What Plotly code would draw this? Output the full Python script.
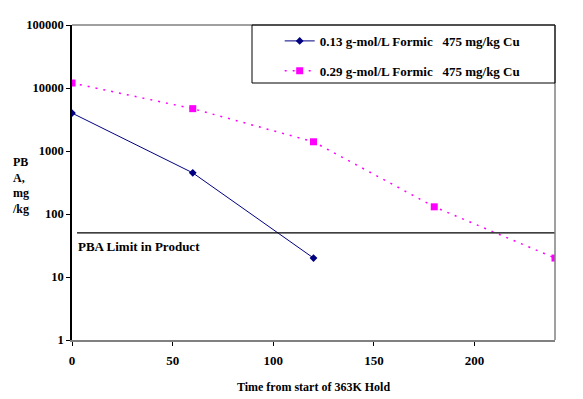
import plotly.graph_objects as go

time_s1 = [0, 60, 120]
pba_s1 = [4000, 450, 20]
time_s2 = [0, 60, 120, 180, 240]
pba_s2 = [12000, 4700, 1400, 130, 20]
limit_value = 50
limit_x = [2.5, 240]
name_s1 = "0.13 g-mol/L Formic\u00a0\u00a0\u00a0475 mg/kg Cu"
name_s2 = "0.29 g-mol/L Formic\u00a0\u00a0\u00a0475 mg/kg Cu"
x_ticks = [0, 50, 100, 150, 200]
y_ticks = [1, 10, 100, 1000, 10000, 100000]

font = "Liberation Serif, Times New Roman, serif"

fig = go.Figure()
fig.add_trace(go.Scatter(
    x=time_s1, y=pba_s1, mode="lines+markers", name=name_s1, legendgroup="a",
    line=dict(color="#000080", width=1),
    marker=dict(symbol="diamond", size=6, color="#000080"),
))
fig.add_trace(go.Scatter(
    x=time_s2, y=pba_s2, mode="lines+markers", name=name_s2, legendgroup="b",
    line=dict(color="#FF00FF", width=1.5, dash="2px,6px"),
    marker=dict(symbol="square", size=7, color="#FF00FF"),
))
fig.add_trace(go.Scatter(
    x=limit_x, y=[limit_value, limit_value], mode="lines", showlegend=False,
    line=dict(color="black", width=1.2), hoverinfo="skip",
))

fig.update_layout(
    width=583, height=399,
    margin=dict(l=72, r=28, t=25, b=59),
    paper_bgcolor="white", plot_bgcolor="white",
    font=dict(family=font, size=12, color="black"),
    showlegend=True,
    legend=dict(
        x=0.43, y=0.997, xanchor="left", yanchor="top",
        bgcolor="rgba(0,0,0,0)", borderwidth=0,
        font=dict(family=font, size=13, color="black", weight="bold"),
        tracegroupgap=10, traceorder="grouped",
    ),
    xaxis=dict(
        range=[0, 240], tickvals=x_ticks, showgrid=False, zeroline=False,
        showline=True, linecolor="#808080", linewidth=2,
        ticks="outside", ticklen=4, tickcolor="black",
        tickfont=dict(family=font, size=13, weight="bold"),
        ticklabelstandoff=3, automargin=False,
        title=dict(text="<b>Time from start of 363K Hold</b>", standoff=16,
                   font=dict(family=font, size=12)),
    ),
    yaxis=dict(
        type="log", range=[0, 5], tickvals=y_ticks, ticktext=[str(v) for v in y_ticks],
        showgrid=False, zeroline=False, automargin=False,
        showline=True, linecolor="black", linewidth=1.5,
        ticks="outside", ticklen=4, tickcolor="black",
        tickfont=dict(family=font, size=12.5, weight="bold"),
    ),
    shapes=[
        dict(type="line", xref="paper", yref="paper", x0=0, x1=1, y0=1, y1=1,
             line=dict(color="#808080", width=1.5)),
        dict(type="line", xref="paper", yref="paper", x0=1, x1=1, y0=0, y1=1,
             line=dict(color="#808080", width=1.5)),
        dict(type="rect", xref="paper", yref="paper",
             x0=(252 - 72) / 483, x1=1, y0=1 - (83 - 25) / 315, y1=1,
             line=dict(color="black", width=1)),
    ],
    annotations=[
        dict(text="<b>PBA Limit in Product</b>", x=2, y=1.49, xref="x", yref="y",
             xanchor="left", yanchor="middle", showarrow=False,
             font=dict(family=font, size=13)),
        dict(text="<b>PB<br>A,<br>mg<br>/kg</b>", x=(10 - 72) / 483, y=1 - (185 - 25) / 315,
             xref="paper", yref="paper",
             showarrow=False, align="left", xanchor="left", yanchor="middle",
             font=dict(family=font, size=12)),
    ],
)

fig.write_html("out.html", config={"displayModeBar": False},
               post_script="document.body.style.margin='0';")
